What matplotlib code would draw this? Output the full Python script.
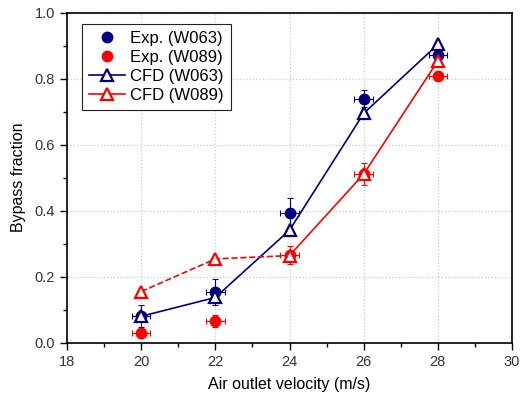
import matplotlib
matplotlib.use("Agg")
import matplotlib.pyplot as plt
import numpy as np

plt.rcParams["font.family"] = ["Liberation Sans", "DejaVu Sans"]

NAVY = "#000080"
RED = "#ff0000"

velocity = [20, 22, 24, 26, 28]
vel_err = [0.25, 0.25, 0.25, 0.25, 0.25]

exp_w063 = [0.08, 0.153, 0.392, 0.740, 0.872]
exp_w063_err = [0.033, 0.040, 0.046, 0.027, 0.012]
exp_w089 = [0.030, 0.065, 0.266, 0.511, 0.807]
exp_w089_err = [0.010, 0.018, 0.027, 0.033, 0.012]

cfd_w063 = [0.080, 0.137, 0.341, 0.695, 0.904]
cfd_w089 = [0.155, 0.254, 0.264, 0.511, 0.854]

fig = plt.figure(figsize=(5.26, 3.95), dpi=100)
ax = fig.add_axes([0.1274, 0.1324, 0.846, 0.8354])

# experimental points with x/y error bars
ax.errorbar(velocity, exp_w063, yerr=exp_w063_err, xerr=vel_err, fmt="o",
            color=NAVY, ms=7.5, elinewidth=0.8, capsize=2.5, capthick=0.8,
            zorder=3)
ax.errorbar(velocity, exp_w089, yerr=exp_w089_err, xerr=vel_err, fmt="o",
            color=RED, ms=7.5, elinewidth=0.8, capsize=2.5, capthick=0.8,
            zorder=3)

# CFD curves
ax.plot(velocity, cfd_w063, "-", color=NAVY, lw=1.2, marker="^", ms=9,
        mfc="white", mec=NAVY, mew=1.6, zorder=4)
x = np.array(velocity)
y = np.array(cfd_w089)
ax.plot(x[:3], y[:3], "--", color=RED, lw=1.2, zorder=4)
ax.plot(x[2:], y[2:], "-", color=RED, lw=1.2, zorder=4)
ax.plot(x, y, ls="none", marker="^", ms=9, mfc="white", mec=RED, mew=1.6,
        zorder=5)

# legend handles
h1 = ax.plot([], [], "o", color=NAVY, ms=7.5)[0]
h2 = ax.plot([], [], "o", color=RED, ms=7.5)[0]
h3 = ax.plot([], [], "-", color=NAVY, lw=1.2, marker="^", ms=9,
             mfc="white", mec=NAVY, mew=1.6)[0]
h4 = ax.plot([], [], "-", color=RED, lw=1.2, marker="^", ms=9,
             mfc="white", mec=RED, mew=1.6)[0]
leg = ax.legend([h1, h2, h3, h4],
                ["Exp. (W063)", "Exp. (W089)", "CFD (W063)", "CFD (W089)"],
                loc="upper left", bbox_to_anchor=(0.034, 0.966), fontsize=12,
                fancybox=False, edgecolor="#222222", framealpha=1,
                handlelength=2.2, handletextpad=0.3, borderpad=0.4,
                labelspacing=0.25, borderaxespad=0)
leg.get_frame().set_linewidth(0.8)

ax.set_xlim(18, 30)
ax.set_ylim(0, 1.0)
ax.set_xticks(range(18, 31, 2))
ax.set_xticks(range(19, 30, 2), minor=True)
ax.set_yticks(np.arange(0, 1.01, 0.2))
ax.set_yticks(np.arange(0.1, 1.0, 0.2), minor=True)
ax.set_yticklabels([f"{v:.1f}" for v in np.arange(0, 1.01, 0.2)])
ax.tick_params(which="both", direction="out", labelsize=10.5, width=1.0,
               labelcolor="#333333")
ax.tick_params(which="major", length=5)
ax.tick_params(which="minor", length=3)
ax.grid(True, which="major", ls=":", color="#cccccc", lw=0.9)
ax.set_axisbelow(True)
for s in ax.spines.values():
    s.set_linewidth(1.2)

ax.set_xlabel("Air outlet velocity (m/s)", fontsize=11.5, labelpad=6)
ax.set_ylabel("Bypass fraction", fontsize=11.5, labelpad=6)

fig.savefig("out.png", dpi=100)
